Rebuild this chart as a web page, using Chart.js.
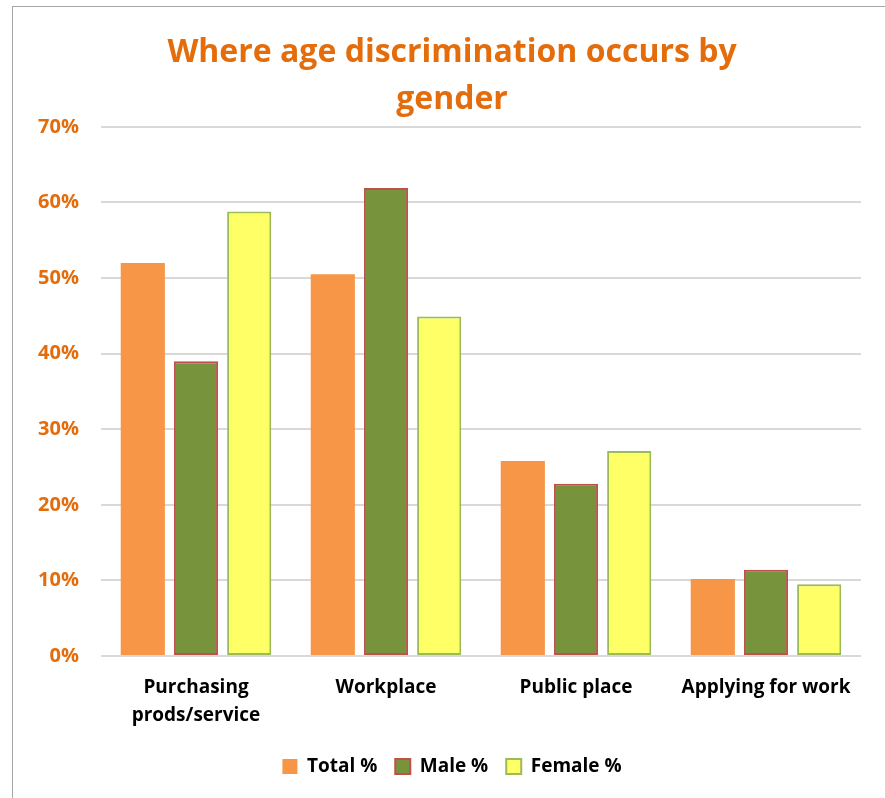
<!DOCTYPE html>
<html lang="en">
<head>
<meta charset="UTF-8">
<title>Where age discrimination occurs by gender</title>
<script src="https://cdn.jsdelivr.net/npm/chart.js"></script>
<style>
    body { margin: 0; background: #fff; }
    .frame {
        position: absolute; left: 12px; top: 6px;
        width: 900px; height: 820px;
        border: 1px solid #a6a6a6; box-sizing: border-box;
    }
    .chart-box { position: absolute; left: 0; top: 0; width: 885px; height: 798px; }
</style>
</head>
<body>
<div class="frame"></div>
<div class="chart-box"><canvas id="edadChart"></canvas></div>

<script>
// ======= Datos =======
const categorias = [['Purchasing', 'prods/service'], 'Workplace', 'Public place', 'Applying for work'];
const totalPct = [52.0, 50.5, 25.8, 10.2];
const malePct = [39.0, 61.9, 22.8, 11.4];
const femalePct = [58.8, 44.9, 27.1, 9.5];
const ticksY = [0, 10, 20, 30, 40, 50, 60, 70];

const naranja = '#E46C0A';
const fuente = "'Open Sans', sans-serif";

function crearDatasetBar(label, data, fill, border, width) {
    return {
        label: label,
        data: data,
        backgroundColor: fill,
        borderColor: border,
        borderWidth: width,
        borderSkipped: false,
        categoryPercentage: 0.84,
        barPercentage: 0.83
    };
}

new Chart(document.getElementById('edadChart'), {
    type: 'bar',
    data: {
        labels: categorias,
        datasets: [
            crearDatasetBar('Total %', totalPct, '#F79646', '#F79646', 0),
            crearDatasetBar('Male %', malePct, '#77933C', '#C0504D', 2),
            crearDatasetBar('Female %', femalePct, '#FFFF66', '#9BBB59', 2)
        ]
    },
    options: {
        responsive: true,
        maintainAspectRatio: false,
        animation: false,
        layout: { padding: { left: 19, right: 0, top: 30, bottom: 12 } },
        plugins: {
            title: {
                display: true,
                text: ['Where age discrimination occurs by', 'gender'],
                color: naranja,
                font: { family: fuente, size: 32, weight: 'bold', lineHeight: 1.45 },
                padding: { top: 0, bottom: 4 }
            },
            legend: {
                position: 'bottom',
                labels: {
                    color: '#000',
                    boxWidth: 15,
                    boxHeight: 15,
                    padding: 18,
                    font: { family: fuente, size: 19, weight: 'bold' }
                }
            },
            tooltip: { enabled: false }
        },
        scales: {
            x: {
                grid: { display: false },
                border: { display: false },
                ticks: {
                    color: '#000',
                    padding: 9,
                    maxRotation: 0,
                    font: { family: fuente, size: 19, weight: 'bold', lineHeight: 1.5 }
                }
            },
            y: {
                min: 0,
                max: 70,
                afterBuildTicks: axis => { axis.ticks = ticksY.map(v => ({ value: v })); },
                afterFit: axis => { axis.width = 82; },
                grid: { color: '#d9d9d9', lineWidth: 2, drawTicks: false },
                border: { display: false },
                ticks: {
                    color: naranja,
                    padding: 22,
                    callback: v => v + '%',
                    font: { family: fuente, size: 20, weight: 'bold' }
                }
            },
            // eje vacío a la derecha: solo reserva margen
            margenDer: {
                type: 'linear',
                position: 'right',
                grid: { display: false },
                border: { display: false },
                ticks: { display: false },
                afterFit: axis => { axis.width = 24; }
            }
        }
    }
});
</script>
</body>
</html>
